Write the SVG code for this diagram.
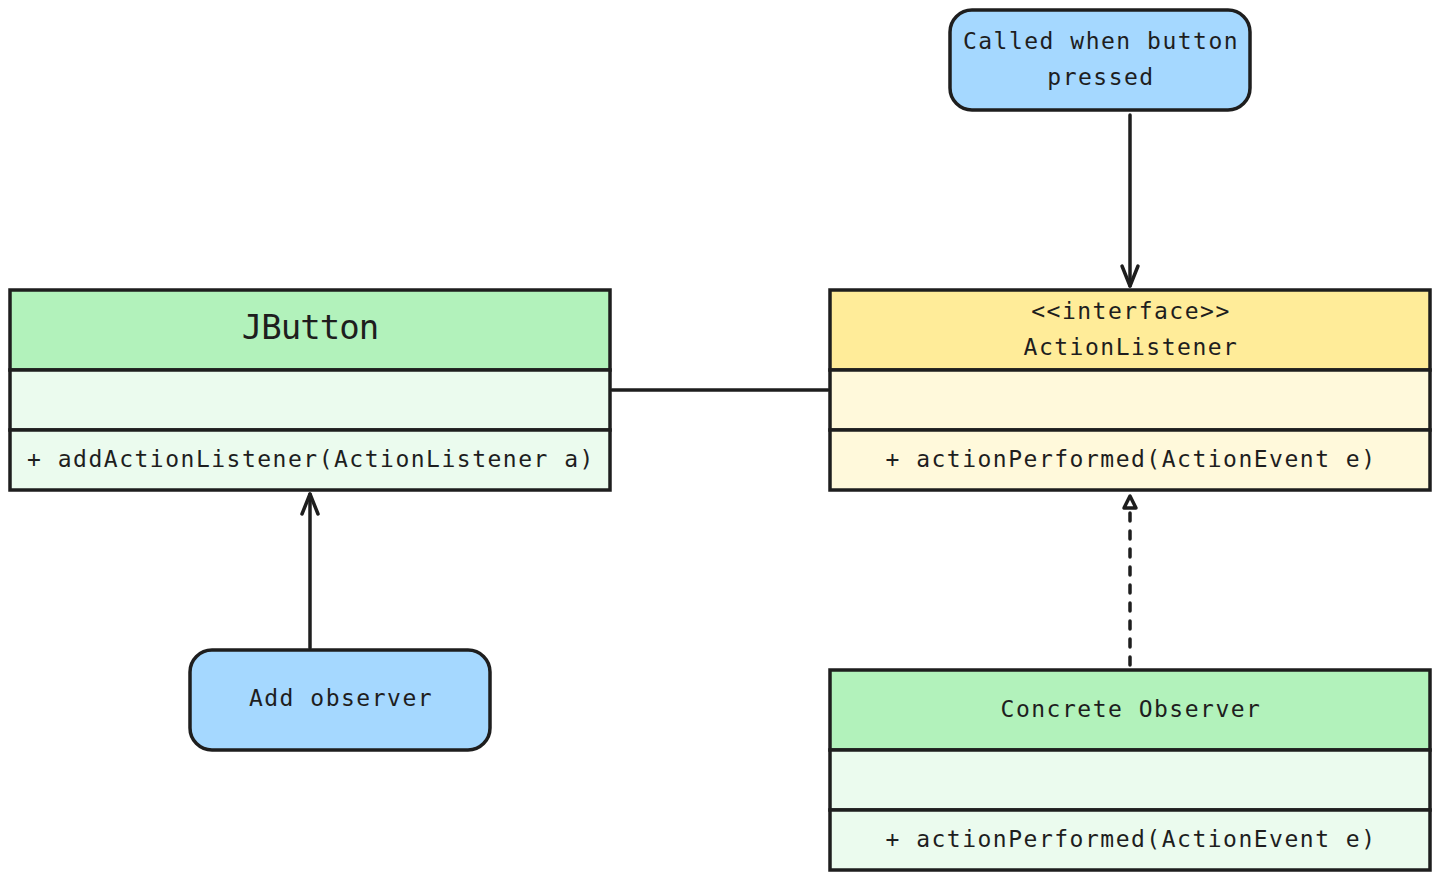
<svg xmlns="http://www.w3.org/2000/svg" width="1440" height="880" viewBox="0 0 1440 880">
<style>
.box{stroke:#1e1e1e;stroke-width:3.5}
.gH{fill:#b2f2bb}.gL{fill:#ebfbee}.yH{fill:#ffec99}.yL{fill:#fff9db}.note{fill:#a5d8ff;stroke:#1e1e1e;stroke-width:3.5}
.t{font-family:"DejaVu Sans Mono","Liberation Mono",monospace;font-size:23px;letter-spacing:1.5px;fill:#1e1e1e;text-anchor:middle}
.title{font-family:"DejaVu Sans Mono","Liberation Mono",monospace;font-size:34px;letter-spacing:-1px;fill:#1e1e1e;text-anchor:middle}
.c{stroke:#1e1e1e;stroke-width:3.5;fill:none;stroke-linecap:round;stroke-linejoin:round}
</style>
<g id="connectors">
<line class="c" x1="612" y1="390" x2="828" y2="390"/>
<line class="c" x1="1130" y1="115" x2="1130" y2="286"/>
<polyline class="c" points="1122,266 1130,286 1138,266"/>
<line class="c" x1="310" y1="648" x2="310" y2="494"/>
<polyline class="c" points="302,514 310,494 318,514"/>
<line class="c" x1="1130" y1="665" x2="1130" y2="512" stroke-dasharray="8,10"/>
<polygon class="c" points="1130,496 1124,508 1136,508"/>
</g>
<g id="jbutton">
<rect class="box gH" x="10" y="290" width="600" height="80"/>
<rect class="box gL" x="10" y="370" width="600" height="60"/>
<rect class="box gL" x="10" y="430" width="600" height="60"/>
<text class="title" x="310" y="339">JButton</text>
<text class="t" x="311" y="467">+ addActionListener(ActionListener a)</text>
</g>
<g id="actionlistener">
<rect class="box yH" x="830" y="290" width="600" height="80"/>
<rect class="box yL" x="830" y="370" width="600" height="60"/>
<rect class="box yL" x="830" y="430" width="600" height="60"/>
<text class="t" x="1131" y="319">&lt;&lt;interface&gt;&gt;</text>
<text class="t" x="1131" y="355">ActionListener</text>
<text class="t" x="1131" y="467">+ actionPerformed(ActionEvent e)</text>
</g>
<g id="concreteobserver">
<rect class="box gH" x="830" y="670" width="600" height="80"/>
<rect class="box gL" x="830" y="750" width="600" height="60"/>
<rect class="box gL" x="830" y="810" width="600" height="60"/>
<text class="t" x="1131" y="717">Concrete Observer</text>
<text class="t" x="1131" y="847">+ actionPerformed(ActionEvent e)</text>
</g>
<g id="note-called">
<rect class="note" x="950" y="10" width="300" height="100" rx="22"/>
<text class="t" x="1101" y="49">Called when button</text>
<text class="t" x="1101" y="85">pressed</text>
</g>
<g id="note-add">
<rect class="note" x="190" y="650" width="300" height="100" rx="22"/>
<text class="t" x="341" y="706">Add observer</text>
</g>
</svg>
